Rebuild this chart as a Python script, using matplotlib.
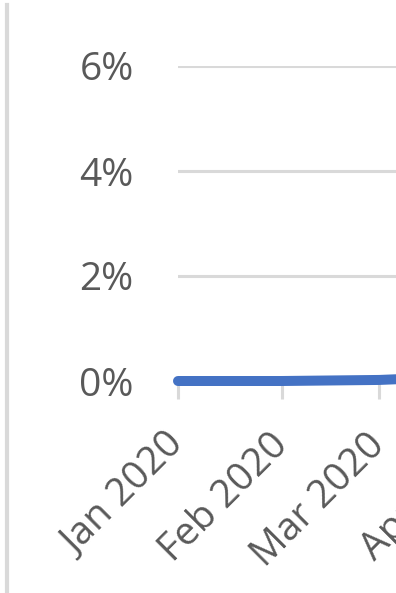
import datetime as dt

import matplotlib
matplotlib.use("Agg")
import matplotlib.pyplot as plt
import matplotlib.dates as mdates
from matplotlib.lines import Line2D
from matplotlib.ticker import FuncFormatter

# Monthly share, in percent
months = [dt.date(2020, 1, 1), dt.date(2020, 2, 1), dt.date(2020, 3, 1), dt.date(2020, 4, 1)]
share = [0.0, 0.0, 0.02, 0.1]
y_ticks = [0, 2, 4, 6]

plt.rcParams["font.family"] = ["Open Sans", "DejaVu Sans"]

W, H = 396, 593
fig = plt.figure(figsize=(W / 100, H / 100), dpi=100)

# Plot area runs past the right edge of the image
left_px, right_px = 178, 483
top_px, bottom_px = 66, 381
ax = fig.add_axes([left_px / W, 1 - bottom_px / H,
                   (right_px - left_px) / W, (bottom_px - top_px) / H])

ax.plot(months, share, color="#4472C4", linewidth=7.2,
        solid_capstyle="round", zorder=3, clip_on=False)

ax.set_ylim(0, 6)
ax.set_yticks(y_ticks)
ax.yaxis.set_major_formatter(FuncFormatter(lambda v, pos: f"{v:.0f}%"))
ax.set_xlim(months[0], months[-1])
ax.set_xticks(months)
ax.xaxis.set_major_formatter(mdates.DateFormatter("%b %Y"))

ax.grid(axis="y", color="#D9D9D9", linewidth=2.2)
ax.set_axisbelow(True)
for side in ["top", "right", "left"]:
    ax.spines[side].set_visible(False)
ax.spines["bottom"].set_color("#D9D9D9")
ax.spines["bottom"].set_linewidth(2.2)

ax.tick_params(axis="y", length=0, pad=32, labelsize=28, labelcolor="#595959")
ax.tick_params(axis="x", length=13, width=2.2, color="#D9D9D9",
               pad=29, labelsize=28, labelcolor="#595959")
for lbl in ax.get_xticklabels():
    lbl.set_rotation(45)
    lbl.set_rotation_mode("anchor")
    lbl.set_ha("right")
    lbl.set_va("center")

# Chart area border on the left
fig.add_artist(Line2D([7 / W, 7 / W], [0, 1 - 5 / H], color="#D9D9D9", linewidth=3))

fig.savefig("out.png", dpi=100)
